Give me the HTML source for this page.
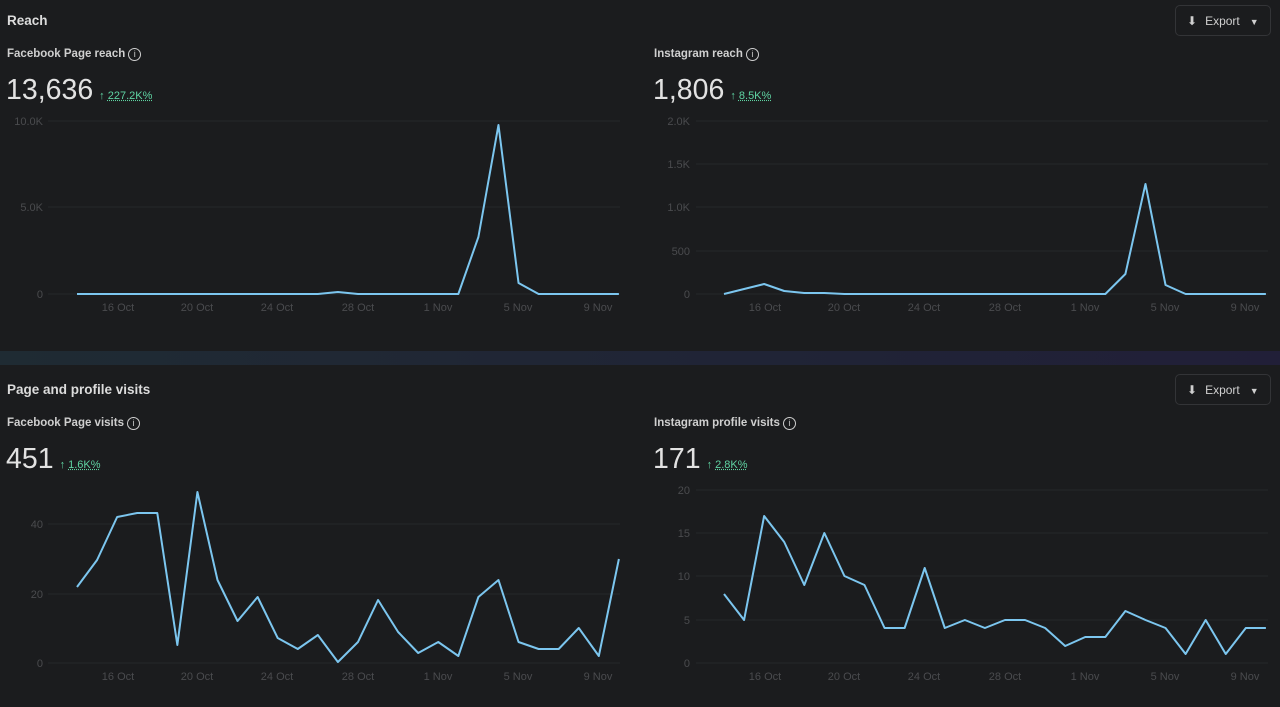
<!DOCTYPE html>
<html><head><meta charset="utf-8"><style>
body{margin:0;width:1280px;height:707px;background:#1b1c1e;font-family:"Liberation Sans",sans-serif;overflow:hidden;position:relative}
.a{position:absolute;white-space:nowrap}
.h{font-weight:bold;font-size:13.5px;color:#dcdcdc}
.s{font-size:11.5px;color:#cfcfcf;font-weight:bold}
.i{display:inline-block;width:11px;height:11px;border:1.3px solid #cfcfcf;border-radius:50%;font-size:9px;text-align:center;line-height:11px;vertical-align:0px;margin-left:3px;font-weight:normal}
.n{font-size:28.5px;color:#e2e2e2}
.g{font-size:11px;color:#5fd4a3;margin-left:6px}
.g u{text-decoration:underline dotted}
.btn{position:absolute;width:96px;height:31px;border:1px solid #333437;border-radius:5px;color:#cfcfcf;font-size:12px;line-height:31px;box-sizing:border-box}
.band{position:absolute;left:0;top:351px;width:1280px;height:14px;background:linear-gradient(90deg,#1f2b33,#211f38)}
svg{position:absolute;left:0;top:0}
svg text{font-family:"Liberation Sans",sans-serif;font-size:11px;fill:#4a4b4e}
</style></head><body>
<div class="band"></div>
<div class="a h" style="left:7px;top:13px">Reach</div>
<div class="a s" style="left:7px;top:48px">Facebook Page reach<span class="i">i</span></div>
<div class="a n" style="left:6px;top:74px">13,636<span class="g">↑ <u>227.2K%</u></span></div>
<div class="a s" style="left:654px;top:48px">Instagram reach<span class="i">i</span></div>
<div class="a n" style="left:653px;top:74px">1,806<span class="g">↑ <u>8.5K%</u></span></div>
<div class="a h" style="left:7px;top:382px">Page and profile visits</div>
<div class="a s" style="left:7px;top:417px">Facebook Page visits<span class="i">i</span></div>
<div class="a n" style="left:6px;top:443px">451<span class="g">↑ <u>1.6K%</u></span></div>
<div class="a s" style="left:654px;top:417px">Instagram profile visits<span class="i">i</span></div>
<div class="a n" style="left:653px;top:443px">171<span class="g">↑ <u>2.8K%</u></span></div>
<div class="btn" style="left:1175px;top:5px"><span style="margin-left:11px">⬇</span><span style="margin-left:8px">Export</span><span style="margin-left:10px;font-size:9px">▼</span></div>
<div class="btn" style="left:1175px;top:374px"><span style="margin-left:11px">⬇</span><span style="margin-left:8px">Export</span><span style="margin-left:10px;font-size:9px">▼</span></div>
<svg width="1280" height="707">
<g stroke="#26272a" stroke-width="1">
<line x1="48" x2="620" y1="121" y2="121"/><line x1="48" x2="620" y1="207" y2="207"/><line x1="48" x2="620" y1="294" y2="294"/>
<line x1="696" x2="1268" y1="121" y2="121"/><line x1="696" x2="1268" y1="164" y2="164"/><line x1="696" x2="1268" y1="207" y2="207"/><line x1="696" x2="1268" y1="251" y2="251"/><line x1="696" x2="1268" y1="294" y2="294"/>
<line x1="48" x2="620" y1="524" y2="524"/><line x1="48" x2="620" y1="594" y2="594"/><line x1="48" x2="620" y1="663" y2="663"/>
<line x1="696" x2="1268" y1="490" y2="490"/><line x1="696" x2="1268" y1="533" y2="533"/><line x1="696" x2="1268" y1="576" y2="576"/><line x1="696" x2="1268" y1="620" y2="620"/><line x1="696" x2="1268" y1="663" y2="663"/>
</g>
<g text-anchor="end">
<text x="43" y="125">10.0K</text><text x="43" y="211">5.0K</text><text x="43" y="298">0</text>
<text x="690" y="125">2.0K</text><text x="690" y="168">1.5K</text><text x="690" y="211">1.0K</text><text x="690" y="255">500</text><text x="690" y="298">0</text>
<text x="43" y="528">40</text><text x="43" y="598">20</text><text x="43" y="667">0</text>
<text x="690" y="494">20</text><text x="690" y="537">15</text><text x="690" y="580">10</text><text x="690" y="624">5</text><text x="690" y="667">0</text>
</g>
<g text-anchor="middle">
<g id="xl"><text x="118" y="311">16 Oct</text><text x="197" y="311">20 Oct</text><text x="277" y="311">24 Oct</text><text x="358" y="311">28 Oct</text><text x="438" y="311">1 Nov</text><text x="518" y="311">5 Nov</text><text x="598" y="311">9 Nov</text></g>
<use href="#xl" x="647"/><use href="#xl" y="369"/><use href="#xl" x="647" y="369"/>
</g>
<g fill="none" stroke="#7cc6ef" stroke-width="2" stroke-linejoin="round">
<polyline transform="matrix(20.07,0,0,1,77,0)" vector-effect="non-scaling-stroke" points="0,294 1,294 2,294 3,294 4,294 5,294 6,294 7,294 8,294 9,294 10,294 11,294 12,294 13,292 14,294 15,294 16,294 17,294 18,294 19,294 20,237 21,125 22,283 23,294 24,294 25,294 26,294 27,294"/>
<polyline transform="matrix(20.07,0,0,1,724,0)" vector-effect="non-scaling-stroke" points="0,294 1,289 2,284 3,291 4,293 5,293 6,294 7,294 8,294 9,294 10,294 11,294 12,294 13,294 14,294 15,294 16,294 17,294 18,294 19,294 20,274 21,184 22,285 23,294 24,294 25,294 26,294 27,294"/>
<polyline transform="matrix(20.07,0,0,1,77,0)" vector-effect="non-scaling-stroke" points="0,587 1,560 2,517 3,513 4,513 5,645 6,492 7,580 8,621 9,597 10,638 11,649 12,635 13,662 14,642 15,600 16,632 17,653 18,642 19,656 20,597 21,580 22,642 23,649 24,649 25,628 26,656 27,559"/>
<polyline transform="matrix(20.07,0,0,1,724,0)" vector-effect="non-scaling-stroke" points="0,594 1,620 2,516 3,542 4,585 5,533 6,576 7,585 8,628 9,628 10,568 11,628 12,620 13,628 14,620 15,620 16,628 17,646 18,637 19,637 20,611 21,620 22,628 23,654 24,620 25,654 26,628 27,628"/>
</g>
</svg>
</body></html>
